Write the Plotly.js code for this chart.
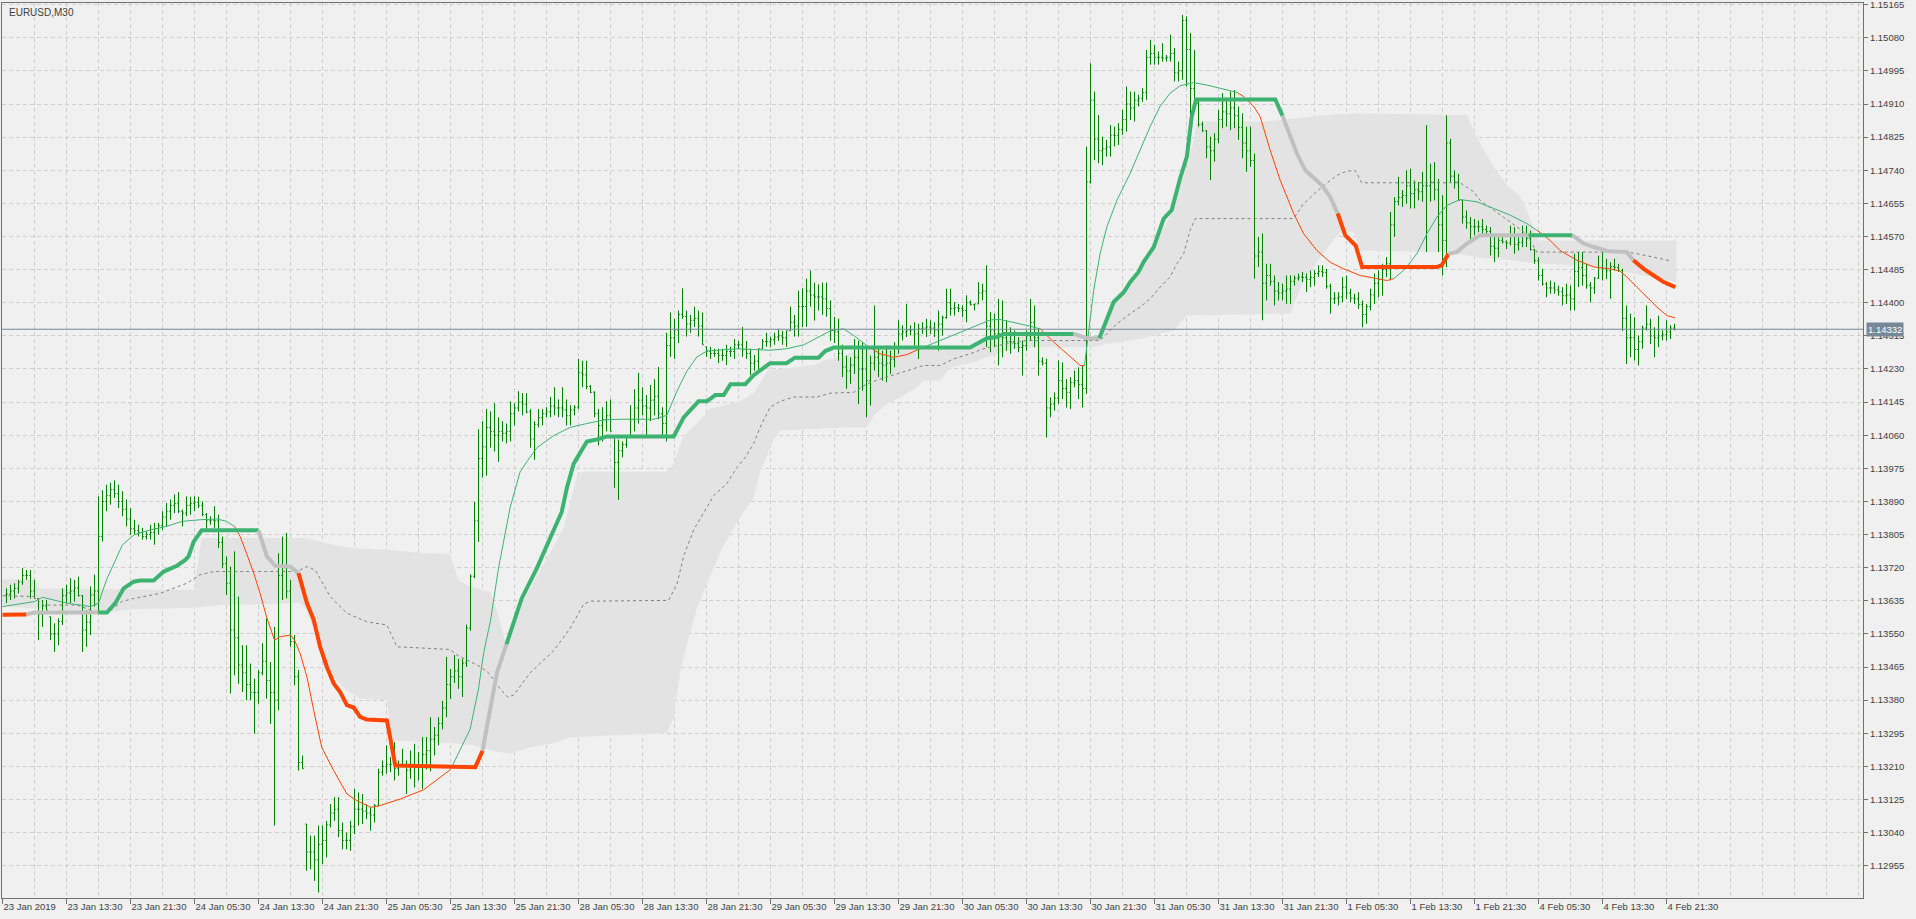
<!DOCTYPE html>
<html><head><meta charset="utf-8">
<script src="https://cdn.plot.ly/plotly-3.0.1.min.js"></script>
<style>html,body{margin:0;padding:0;background:#f0f0f0;overflow:hidden}#chart{width:1916px;height:919px}</style>
</head><body><div id="chart"></div>
<script>
const symbolLabel = "EURUSD,M30";
const bidPrice = 1.14332;
const xTickLabels = ["23 Jan 2019","23 Jan 13:30","23 Jan 21:30","24 Jan 05:30","24 Jan 13:30","24 Jan 21:30","25 Jan 05:30","25 Jan 13:30","25 Jan 21:30","28 Jan 05:30","28 Jan 13:30","28 Jan 21:30","29 Jan 05:30","29 Jan 13:30","29 Jan 21:30","30 Jan 05:30","30 Jan 13:30","30 Jan 21:30","31 Jan 05:30","31 Jan 13:30","31 Jan 21:30","1 Feb 05:30","1 Feb 13:30","1 Feb 21:30","4 Feb 05:30","4 Feb 13:30","4 Feb 21:30"];
const yTickLabels = ["1.12955","1.13040","1.13125","1.13210","1.13295","1.13380","1.13465","1.13550","1.13635","1.13720","1.13805","1.13890","1.13975","1.14060","1.14145","1.14230","1.14315","1.14400","1.14485","1.14570","1.14655","1.14740","1.14825","1.14910","1.14995","1.15080","1.15165"];

const barOpen = [
1.13650,1.13652,1.13660,1.13667,1.13683,1.13700,1.13700,1.13660,1.13641,1.13600,
1.13622,1.13594,1.13550,1.13550,1.13582,1.13648,1.13655,1.13660,1.13668,1.13648,
1.13560,1.13580,1.13650,1.13660,1.13800,1.13890,1.13905,1.13920,1.13910,1.13890,
1.13870,1.13845,1.13820,1.13815,1.13810,1.13800,1.13805,1.13810,1.13820,1.13828,
1.13850,1.13865,1.13880,1.13885,1.13865,1.13860,1.13880,1.13885,1.13888,1.13880,
1.13856,1.13840,1.13842,1.13840,1.13785,1.13730,1.13680,1.13560,1.13540,1.13470,
1.13450,1.13420,1.13400,1.13400,1.13450,1.13480,1.13430,1.13400,1.13380,1.13700,
1.13720,1.13660,1.13530,1.13440,1.13220,1.13062,1.12990,1.12990,1.12970,1.13010,
1.13020,1.13060,1.13090,1.13100,1.13045,1.13020,1.13020,1.13055,1.13100,1.13100,
1.13095,1.13090,1.13085,1.13110,1.13195,1.13210,1.13215,1.13215,1.13205,1.13215,
1.13215,1.13200,1.13215,1.13210,1.13210,1.13240,1.13250,1.13280,1.13290,1.13320,
1.13360,1.13420,1.13440,1.13455,1.13440,1.13475,1.13565,1.13698,1.13840,1.14000,
1.14030,1.14080,1.14070,1.14060,1.14070,1.14065,1.14070,1.14115,1.14130,1.14145,
1.14140,1.14120,1.14050,1.14088,1.14105,1.14115,1.14120,1.14135,1.14130,1.14130,
1.14125,1.14110,1.14125,1.14132,1.14220,1.14215,1.14185,1.14170,1.14115,1.14085,
1.14100,1.14110,1.14059,1.13990,1.14020,1.14036,1.14059,1.14100,1.14130,1.14150,
1.14135,1.14130,1.14150,1.14160,1.14115,1.14090,1.14290,1.14310,1.14330,1.14370,
1.14365,1.14345,1.14355,1.14360,1.14340,1.14287,1.14275,1.14270,1.14270,1.14265,
1.14265,1.14275,1.14275,1.14292,1.14292,1.14280,1.14270,1.14245,1.14250,1.14282,
1.14300,1.14300,1.14305,1.14312,1.14315,1.14310,1.14328,1.14350,1.14340,1.14390,
1.14390,1.14430,1.14420,1.14415,1.14415,1.14410,1.14385,1.14330,1.14325,1.14270,
1.14235,1.14225,1.14240,1.14260,1.14230,1.14230,1.14200,1.14245,1.14260,1.14245,
1.14240,1.14245,1.14255,1.14285,1.14320,1.14325,1.14330,1.14330,1.14320,1.14333,
1.14335,1.14338,1.14335,1.14330,1.14345,1.14362,1.14400,1.14385,1.14387,1.14385,
1.14380,1.14400,1.14395,1.14397,1.14425,1.14430,1.14340,1.14330,1.14320,1.14320,
1.14310,1.14300,1.14300,1.14295,1.14285,1.14290,1.14315,1.14350,1.14310,1.14250,
1.14245,1.14130,1.14140,1.14155,1.14200,1.14180,1.14170,1.14195,1.14200,1.14190,
1.14180,1.14710,1.14920,1.14820,1.14790,1.14795,1.14800,1.14830,1.14830,1.14845,
1.14870,1.14910,1.14900,1.14920,1.14925,1.14940,1.15030,1.15040,1.15030,1.15030,
1.15028,1.15030,1.15040,1.14990,1.14995,1.15125,1.15050,1.14950,1.14912,1.14858,
1.14841,1.14800,1.14790,1.14820,1.14870,1.14890,1.14885,1.14900,1.14880,1.14850,
1.14810,1.14790,1.14765,1.14520,1.14530,1.14450,1.14470,1.14455,1.14430,1.14425,
1.14430,1.14435,1.14455,1.14463,1.14466,1.14465,1.14460,1.14465,1.14475,1.14480,
1.14478,1.14442,1.14410,1.14412,1.14415,1.14440,1.14425,1.14412,1.14410,1.14395,
1.14370,1.14390,1.14420,1.14450,1.14460,1.14485,1.14500,1.14600,1.14660,1.14670,
1.14675,1.14700,1.14680,1.14690,1.14685,1.14700,1.14700,1.14710,1.14690,1.14600,
1.14560,1.14810,1.14725,1.14710,1.14663,1.14620,1.14605,1.14595,1.14595,1.14595,
1.14588,1.14583,1.14545,1.14540,1.14560,1.14556,1.14553,1.14570,1.14550,1.14555,
1.14570,1.14565,1.14536,1.14508,1.14470,1.14448,1.14438,1.14438,1.14433,1.14428,
1.14418,1.14420,1.14410,1.14480,1.14490,1.14470,1.14445,1.14438,1.14463,1.14490,
1.14487,1.14482,1.14493,1.14490,1.14483,1.14360,1.14310,1.14310,1.14280,1.14300,
1.14335,1.14345,1.14315,1.14310,1.14315,1.14318,1.14325,1.14335];

const barHigh = [
1.13667,1.13676,1.13680,1.13689,1.13719,1.13714,1.13714,1.13689,1.13641,1.13637,
1.13637,1.13594,1.13577,1.13590,1.13667,1.13676,1.13693,1.13689,1.13697,1.13650,
1.13611,1.13672,1.13702,1.13903,1.13919,1.13933,1.13938,1.13944,1.13933,1.13916,
1.13895,1.13873,1.13843,1.13830,1.13822,1.13813,1.13830,1.13835,1.13835,1.13865,
1.13886,1.13895,1.13908,1.13914,1.13869,1.13903,1.13902,1.13903,1.13902,1.13890,
1.13860,1.13852,1.13878,1.13856,1.13800,1.13749,1.13723,1.13762,1.13646,1.13521,
1.13521,1.13474,1.13435,1.13457,1.13526,1.13590,1.13478,1.13568,1.13757,1.13800,
1.13809,1.13689,1.13547,1.13457,1.13238,1.13062,1.13032,1.13032,1.13058,1.13058,
1.13070,1.13113,1.13131,1.13131,1.13066,1.13040,1.13070,1.13152,1.13143,1.13139,
1.13113,1.13105,1.13113,1.13204,1.13225,1.13264,1.13234,1.13272,1.13225,1.13255,
1.13225,1.13251,1.13268,1.13247,1.13285,1.13285,1.13336,1.13311,1.13336,1.13378,
1.13491,1.13460,1.13496,1.13486,1.13486,1.13574,1.13703,1.13889,1.14075,1.14096,
1.14127,1.14121,1.14142,1.14106,1.14096,1.14090,1.14147,1.14142,1.14173,1.14168,
1.14168,1.14127,1.14096,1.14127,1.14127,1.14132,1.14158,1.14183,1.14152,1.14183,
1.14152,1.14137,1.14137,1.14256,1.14251,1.14251,1.14189,1.14173,1.14127,1.14132,
1.14147,1.14152,1.14059,1.14049,1.14044,1.14059,1.14137,1.14178,1.14220,1.14183,
1.14163,1.14189,1.14204,1.14235,1.14132,1.14323,1.14375,1.14359,1.14380,1.14437,
1.14380,1.14369,1.14390,1.14380,1.14375,1.14287,1.14287,1.14282,1.14282,1.14282,
1.14292,1.14287,1.14307,1.14302,1.14338,1.14302,1.14282,1.14266,1.14282,1.14307,
1.14323,1.14313,1.14323,1.14333,1.14328,1.14328,1.14390,1.14369,1.14431,1.14437,
1.14462,1.14483,1.14452,1.14447,1.14452,1.14452,1.14406,1.14364,1.14359,1.14292,
1.14264,1.14260,1.14307,1.14303,1.14299,1.14282,1.14264,1.14393,1.14286,1.14277,
1.14290,1.14277,1.14299,1.14355,1.14342,1.14397,1.14342,1.14350,1.14346,1.14350,
1.14359,1.14355,1.14350,1.14380,1.14367,1.14436,1.14436,1.14402,1.14397,1.14393,
1.14419,1.14406,1.14397,1.14453,1.14449,1.14496,1.14376,1.14372,1.14410,1.14406,
1.14355,1.14337,1.14329,1.14312,1.14303,1.14329,1.14410,1.14393,1.14333,1.14260,
1.14256,1.14157,1.14170,1.14252,1.14247,1.14204,1.14209,1.14226,1.14234,1.14239,
1.14801,1.15015,1.14942,1.14882,1.14826,1.14818,1.14856,1.14852,1.14861,1.14895,
1.14955,1.14942,1.14942,1.14934,1.14951,1.15049,1.15075,1.15062,1.15045,1.15066,
1.15036,1.15088,1.15054,1.15019,1.15139,1.15135,1.15092,1.15049,1.14921,1.14865,
1.14843,1.14826,1.14835,1.14895,1.14938,1.14921,1.14942,1.14946,1.14904,1.14886,
1.14852,1.14852,1.14783,1.14569,1.14578,1.14500,1.14500,1.14470,1.14453,1.14449,
1.14470,1.14470,1.14470,1.14475,1.14479,1.14475,1.14483,1.14483,1.14496,1.14496,
1.14487,1.14449,1.14427,1.14427,1.14466,1.14470,1.14436,1.14423,1.14427,1.14406,
1.14397,1.14436,1.14475,1.14483,1.14500,1.14517,1.14633,1.14671,1.14723,1.14689,
1.14740,1.14744,1.14714,1.14710,1.14736,1.14856,1.14757,1.14761,1.14718,1.14676,
1.14881,1.14821,1.14740,1.14731,1.14663,1.14637,1.14620,1.14615,1.14611,1.14615,
1.14598,1.14594,1.14573,1.14568,1.14573,1.14560,1.14598,1.14594,1.14568,1.14598,
1.14598,1.14585,1.14538,1.14517,1.14487,1.14453,1.14457,1.14453,1.14444,1.14440,
1.14449,1.14444,1.14526,1.14530,1.14530,1.14500,1.14453,1.14466,1.14521,1.14530,
1.14513,1.14504,1.14513,1.14500,1.14487,1.14393,1.14372,1.14363,1.14316,1.14341,
1.14393,1.14359,1.14337,1.14367,1.14329,1.14355,1.14342,1.14346];

const barLow = [
1.13629,1.13637,1.13641,1.13654,1.13676,1.13689,1.13641,1.13641,1.13534,1.13568,
1.13611,1.13534,1.13504,1.13521,1.13573,1.13629,1.13629,1.13633,1.13646,1.13504,
1.13517,1.13547,1.13620,1.13603,1.13787,1.13865,1.13882,1.13899,1.13873,1.13852,
1.13826,1.13805,1.13805,1.13800,1.13792,1.13792,1.13792,1.13779,1.13805,1.13817,
1.13826,1.13843,1.13860,1.13860,1.13826,1.13852,1.13856,1.13865,1.13873,1.13852,
1.13817,1.13830,1.13822,1.13770,1.13719,1.13650,1.13397,1.13444,1.13422,1.13401,
1.13380,1.13380,1.13294,1.13371,1.13444,1.13384,1.13319,1.13058,1.13354,1.13637,
1.13641,1.13517,1.13418,1.13199,1.13204,1.12942,1.12946,1.12916,1.12886,1.12959,
1.12976,1.13053,1.13070,1.13028,1.12997,1.12997,1.12993,1.13036,1.13058,1.13062,
1.13075,1.13045,1.13066,1.13109,1.13186,1.13191,1.13195,1.13174,1.13186,1.13208,
1.13139,1.13178,1.13156,1.13174,1.13152,1.13202,1.13197,1.13238,1.13264,1.13305,
1.13336,1.13383,1.13424,1.13409,1.13388,1.13465,1.13558,1.13693,1.13786,1.13951,
1.13956,1.14028,1.14018,1.13992,1.14044,1.14039,1.14044,1.14085,1.14121,1.14111,
1.14116,1.14028,1.13997,1.14080,1.14085,1.14106,1.14106,1.14111,1.14106,1.14106,
1.14085,1.14085,1.14111,1.14127,1.14183,1.14178,1.14168,1.14106,1.14034,1.14044,
1.14070,1.14070,1.13925,1.13894,1.14003,1.14028,1.14059,1.14070,1.14090,1.14111,
1.14059,1.14096,1.14111,1.14101,1.14059,1.14044,1.14261,1.14256,1.14297,1.14359,
1.14313,1.14323,1.14338,1.14313,1.14292,1.14261,1.14256,1.14261,1.14245,1.14251,
1.14240,1.14261,1.14256,1.14282,1.14261,1.14256,1.14214,1.14225,1.14225,1.14282,
1.14287,1.14287,1.14292,1.14302,1.14292,1.14287,1.14328,1.14313,1.14313,1.14338,
1.14338,1.14390,1.14354,1.14380,1.14369,1.14364,1.14302,1.14297,1.14251,1.14209,
1.14179,1.14192,1.14217,1.14140,1.14174,1.14106,1.14136,1.14226,1.14209,1.14200,
1.14196,1.14217,1.14234,1.14269,1.14303,1.14312,1.14316,1.14290,1.14256,1.14320,
1.14312,1.14320,1.14312,1.14277,1.14316,1.14359,1.14367,1.14367,1.14376,1.14363,
1.14350,1.14393,1.14380,1.14397,1.14406,1.14286,1.14273,1.14286,1.14239,1.14260,
1.14277,1.14269,1.14282,1.14273,1.14213,1.14277,1.14303,1.14286,1.14213,1.14239,
1.14054,1.14106,1.14123,1.14140,1.14153,1.14131,1.14127,1.14183,1.14153,1.14131,
1.14166,1.14706,1.14766,1.14758,1.14753,1.14775,1.14775,1.14801,1.14805,1.14831,
1.14839,1.14869,1.14865,1.14904,1.14916,1.14921,1.15011,1.15011,1.15011,1.15019,
1.15019,1.15019,1.14968,1.14968,1.14972,1.14955,1.14878,1.14904,1.14852,1.14839,
1.14771,1.14715,1.14762,1.14809,1.14848,1.14852,1.14843,1.14848,1.14818,1.14771,
1.14736,1.14749,1.14462,1.14492,1.14355,1.14406,1.14444,1.14393,1.14406,1.14406,
1.14397,1.14397,1.14444,1.14457,1.14453,1.14427,1.14440,1.14444,1.14466,1.14466,
1.14436,1.14372,1.14397,1.14393,1.14401,1.14410,1.14401,1.14397,1.14384,1.14337,
1.14346,1.14380,1.14397,1.14414,1.14418,1.14466,1.14457,1.14569,1.14650,1.14646,
1.14654,1.14642,1.14642,1.14663,1.14659,1.14530,1.14659,1.14663,1.14530,1.14470,
1.14491,1.14710,1.14693,1.14663,1.14603,1.14590,1.14564,1.14573,1.14581,1.14577,
1.14573,1.14521,1.14504,1.14517,1.14552,1.14538,1.14547,1.14526,1.14534,1.14543,
1.14543,1.14534,1.14500,1.14457,1.14444,1.14414,1.14423,1.14423,1.14418,1.14393,
1.14397,1.14380,1.14380,1.14440,1.14444,1.14436,1.14401,1.14423,1.14461,1.14457,
1.14461,1.14410,1.14483,1.14479,1.14328,1.14243,1.14260,1.14252,1.14239,1.14282,
1.14329,1.14294,1.14260,1.14286,1.14303,1.14303,1.14307,1.14329];

const barClose = [
1.13652,1.13660,1.13667,1.13683,1.13700,1.13700,1.13660,1.13641,1.13600,1.13622,
1.13611,1.13550,1.13550,1.13582,1.13648,1.13655,1.13660,1.13668,1.13648,1.13560,
1.13580,1.13650,1.13660,1.13800,1.13890,1.13905,1.13920,1.13910,1.13890,1.13870,
1.13845,1.13820,1.13815,1.13810,1.13800,1.13805,1.13810,1.13820,1.13828,1.13850,
1.13865,1.13880,1.13885,1.13865,1.13860,1.13880,1.13885,1.13888,1.13880,1.13856,
1.13840,1.13842,1.13840,1.13785,1.13730,1.13680,1.13560,1.13540,1.13470,1.13450,
1.13420,1.13400,1.13400,1.13450,1.13480,1.13430,1.13400,1.13380,1.13700,1.13720,
1.13660,1.13530,1.13440,1.13220,1.13204,1.12990,1.12990,1.12970,1.13010,1.13020,
1.13060,1.13090,1.13100,1.13045,1.13020,1.13020,1.13055,1.13100,1.13100,1.13095,
1.13090,1.13085,1.13110,1.13195,1.13210,1.13215,1.13215,1.13205,1.13215,1.13215,
1.13200,1.13215,1.13210,1.13210,1.13240,1.13250,1.13280,1.13290,1.13320,1.13360,
1.13420,1.13440,1.13455,1.13440,1.13475,1.13565,1.13698,1.13840,1.14000,1.14030,
1.14080,1.14070,1.14060,1.14070,1.14065,1.14070,1.14115,1.14130,1.14145,1.14140,
1.14120,1.14050,1.14088,1.14105,1.14115,1.14120,1.14135,1.14130,1.14130,1.14125,
1.14110,1.14125,1.14132,1.14220,1.14215,1.14185,1.14170,1.14115,1.14085,1.14100,
1.14110,1.14070,1.13990,1.14020,1.14036,1.14059,1.14100,1.14130,1.14150,1.14135,
1.14130,1.14150,1.14160,1.14115,1.14090,1.14290,1.14310,1.14330,1.14370,1.14365,
1.14345,1.14355,1.14360,1.14340,1.14292,1.14275,1.14270,1.14270,1.14265,1.14265,
1.14275,1.14275,1.14292,1.14292,1.14280,1.14270,1.14245,1.14250,1.14282,1.14300,
1.14300,1.14305,1.14312,1.14315,1.14310,1.14328,1.14350,1.14340,1.14390,1.14390,
1.14430,1.14420,1.14415,1.14415,1.14410,1.14385,1.14330,1.14325,1.14270,1.14235,
1.14225,1.14240,1.14260,1.14230,1.14230,1.14200,1.14245,1.14260,1.14245,1.14240,
1.14245,1.14255,1.14285,1.14320,1.14325,1.14330,1.14330,1.14320,1.14333,1.14335,
1.14338,1.14335,1.14330,1.14345,1.14362,1.14400,1.14385,1.14387,1.14385,1.14380,
1.14400,1.14395,1.14397,1.14425,1.14430,1.14340,1.14330,1.14320,1.14320,1.14310,
1.14300,1.14300,1.14295,1.14285,1.14290,1.14315,1.14350,1.14310,1.14250,1.14245,
1.14130,1.14140,1.14155,1.14200,1.14180,1.14170,1.14195,1.14200,1.14190,1.14180,
1.14710,1.14920,1.14820,1.14790,1.14795,1.14800,1.14830,1.14830,1.14845,1.14870,
1.14910,1.14900,1.14920,1.14925,1.14940,1.15030,1.15040,1.15030,1.15030,1.15028,
1.15030,1.15040,1.14990,1.14995,1.15125,1.15050,1.14950,1.14912,1.14858,1.14841,
1.14800,1.14790,1.14820,1.14870,1.14890,1.14885,1.14900,1.14880,1.14850,1.14810,
1.14790,1.14765,1.14520,1.14530,1.14450,1.14470,1.14455,1.14430,1.14425,1.14430,
1.14435,1.14455,1.14463,1.14466,1.14465,1.14460,1.14465,1.14475,1.14480,1.14478,
1.14442,1.14410,1.14412,1.14415,1.14440,1.14425,1.14412,1.14410,1.14395,1.14370,
1.14390,1.14420,1.14450,1.14460,1.14485,1.14500,1.14600,1.14660,1.14670,1.14675,
1.14700,1.14680,1.14690,1.14685,1.14700,1.14700,1.14710,1.14690,1.14600,1.14560,
1.14810,1.14725,1.14710,1.14663,1.14620,1.14605,1.14595,1.14595,1.14595,1.14588,
1.14583,1.14545,1.14540,1.14560,1.14556,1.14553,1.14570,1.14550,1.14555,1.14570,
1.14565,1.14536,1.14508,1.14470,1.14448,1.14438,1.14438,1.14433,1.14428,1.14418,
1.14420,1.14410,1.14480,1.14490,1.14470,1.14445,1.14438,1.14463,1.14490,1.14487,
1.14482,1.14493,1.14490,1.14483,1.14360,1.14310,1.14310,1.14280,1.14300,1.14335,
1.14345,1.14315,1.14310,1.14315,1.14318,1.14325,1.14335,1.14332];

// thin moving average (bar position, value, colour of the segment that starts there)
const maX = [0,8,10,16,22,24,26,29,30,33,37,41,45,49.4,53.6,56,58,59.4,61,62.8,64.4,66,68,69.4,72,73,74.4,76.1,77.8,79.8,82.8,86.1,88.6,92,93.6,99.4,105.3,112,116.9,119,120.3,122,124,126.9,129.4,131.1,133.6,137.8,141.9,146.1,150.3,154.4,162.8,166.1,168.6,171.1,173.6,176.1,183.6,191.9,196,200.3,204.4,207,210.3,212.8,216.1,219.4,222.8,226.1,229.4,234.4,238.6,242.8,247,249.4,252.8,256,259.4,262.8,266.1,269.4,270.5,271.5,272.8,274.4,276.1,278.6,281.9,284.4,286.9,289.4,291.9,294.4,297.8,301,305.3,308.6,310.3,312.8,314.4,316.9,319.4,322.8,325.3,328.6,331.9,335.3,339.4,343.6,346.1,347.8,350.3,353.6,356.1,358.6,361.1,364.4,368.6,372.8,376.9,381.1,383.6,386.9,389.4,393.6,397.8,401.9,404.4,406.1,408.6,411.1,413.6,416.1,418.2];
const maY = [1.13620,1.13633,1.13644,1.13629,1.13620,1.13629,1.13689,1.13757,1.13779,1.13805,1.13817,1.13826,1.13839,1.13843,1.13845,1.13839,1.13826,1.13800,1.13757,1.13706,1.13654,1.13594,1.13534,1.13543,1.13547,1.13534,1.13500,1.13440,1.13354,1.13259,1.13199,1.13139,1.13122,1.13105,1.13107,1.13126,1.13150,1.13202,1.13305,1.13409,1.13502,1.13584,1.13719,1.13874,1.13966,1.13992,1.14028,1.14059,1.14080,1.14090,1.14099,1.14101,1.14101,1.14111,1.14173,1.14225,1.14261,1.14276,1.14282,1.14278,1.14282,1.14292,1.14313,1.14328,1.14333,1.14316,1.14290,1.14269,1.14260,1.14267,1.14282,1.14303,1.14320,1.14337,1.14356,1.14357,1.14350,1.14342,1.14333,1.14299,1.14269,1.14239,1.14239,1.14320,1.14432,1.14526,1.14595,1.14663,1.14732,1.14792,1.14852,1.14904,1.14938,1.14957,1.14965,1.14959,1.14948,1.14940,1.14929,1.14904,1.14878,1.14792,1.14715,1.14629,1.14577,1.14534,1.14504,1.14487,1.14470,1.14462,1.14457,1.14462,1.14483,1.14526,1.14577,1.14620,1.14650,1.14665,1.14659,1.14642,1.14625,1.14603,1.14586,1.14560,1.14534,1.14509,1.14492,1.14487,1.14481,1.14466,1.14440,1.14414,1.14389,1.14367,1.14361];
const maCol = "gggggggggggggggg" + "rrrrrrrrrrrrrrrrrrrrr" + "ggggggggggggggggggggggggggggg" + "rrrr" + "gggggggg" + "rrrr" + "ggggggggggggggg" + "rrrrrrrrrrrrrr" + "ggggggggggg" + "rrrrrrrrrrrrr";

// thick trailing line
const thX = [0,6,7.8,24,26.1,28.2,30.3,32.8,34.4,37.8,40.3,43.6,45.7,46.5,47.8,49.8,64,66.1,68.2,71.9,74,76.1,77.8,79.4,81.1,82.8,84.4,86.1,87.8,89.4,91.1,96.1,96.9,98.2,118.2,120,122,123.6,126,129.8,133.6,139.8,141.1,142.8,146.1,148.6,151.1,167.8,170.3,174,176.1,178.2,180.3,182,185.7,187.8,191.9,196,198.1,204,205.7,207.8,241.9,243.6,246.1,248.6,250.3,267.8,271.1,274.2,276.1,277.8,280.3,281.9,284,285.3,287.8,289.4,290.3,292.3,293.6,294.4,296.1,296.8,297.3,298.4,318.2,320,321.9,323.6,325.7,327.8,329.8,331.9,333.8,335.7,338.3,339.9,358.6,359.8,361.5,363.6,366.1,369.4,381.5,392.5,395.3,397.8,401.1,406.1,407.7,410.3,412.8,415.3,418.2];
const thY = [1.13599,1.13600,1.13605,1.13605,1.13605,1.13629,1.13667,1.13684,1.13687,1.13687,1.13710,1.13725,1.13740,1.13749,1.13787,1.13816,1.13816,1.13749,1.13725,1.13723,1.13706,1.13629,1.13586,1.13517,1.13465,1.13423,1.13401,1.13367,1.13361,1.13337,1.13330,1.13328,1.13285,1.13212,1.13208,1.13250,1.13367,1.13450,1.13524,1.13641,1.13719,1.13863,1.13925,1.13987,1.14044,1.14049,1.14057,1.14057,1.14106,1.14147,1.14147,1.14163,1.14163,1.14191,1.14191,1.14214,1.14245,1.14245,1.14259,1.14259,1.14276,1.14285,1.14285,1.14294,1.14309,1.14312,1.14320,1.14320,1.14309,1.14309,1.14355,1.14402,1.14427,1.14453,1.14479,1.14505,1.14543,1.14595,1.14616,1.14638,1.14689,1.14719,1.14775,1.14835,1.14878,1.14922,1.14922,1.14880,1.14826,1.14783,1.14740,1.14719,1.14702,1.14672,1.14629,1.14573,1.14547,1.14492,1.14492,1.14496,1.14526,1.14530,1.14552,1.14573,1.14573,1.14573,1.14552,1.14543,1.14533,1.14530,1.14509,1.14487,1.14470,1.14453,1.14440];
const thCol = "r" + "ss" + "ggggggggggggg" + "ssss" + "rrrrrrrrrrrrrrr" + "sss" + "ggggggggggggggggggggggggggggg" + "ss" + "gggggggggggggggggg" + "sssssss" + "rrrrrr" + "ssss" + "g" + "sssss" + "rrrrr";

// dashed middle line
const dsX = [0,7.8,10.3,18.6,24.4,26.1,28.2,29.8,32.8,39.4,46.1,49.4,52.8,73.6,76.1,78.2,81.9,86.1,91.1,96.1,98.6,111.9,113.6,119.4,121.5,124.4,126.3,127.8,131.9,137.8,141.9,145.3,147,166.5,168.6,170.3,172.8,176.1,177.8,181.1,183.6,185.7,187.8,189.4,191.9,194.4,197.8,203.6,207,212.8,216.1,219.4,226.1,230.3,234.4,237.8,241.9,245.3,248.6,253.6,256,274.4,276.1,278.6,281.9,284.4,286.9,289.4,291.9,293.6,295.3,296.1,296.9,298.2,322.8,325.3,329.4,333.6,336.1,338.2,339.8,364.4,367.8,369.4,372.8,376.9,380.3,381.9,383.6,406.1,408.6,412.8,417.3];
const dsY = [1.13648,1.13646,1.13624,1.13624,1.13603,1.13603,1.13620,1.13633,1.13641,1.13654,1.13680,1.13702,1.13710,1.13710,1.13723,1.13714,1.13646,1.13603,1.13581,1.13573,1.13517,1.13510,1.13496,1.13466,1.13450,1.13409,1.13388,1.13393,1.13450,1.13507,1.13564,1.13626,1.13634,1.13636,1.13677,1.13750,1.13817,1.13874,1.13905,1.13936,1.13977,1.14003,1.14039,1.14080,1.14132,1.14147,1.14158,1.14158,1.14168,1.14170,1.14192,1.14204,1.14226,1.14239,1.14239,1.14256,1.14269,1.14282,1.14290,1.14299,1.14303,1.14303,1.14320,1.14346,1.14372,1.14389,1.14410,1.14440,1.14466,1.14500,1.14526,1.14560,1.14586,1.14616,1.14616,1.14655,1.14693,1.14727,1.14738,1.14739,1.14708,1.14708,1.14685,1.14663,1.14637,1.14607,1.14582,1.14560,1.14530,1.14530,1.14526,1.14517,1.14507];

// shaded band: upper and lower edges
const cuX = [0,7.8,9,47.8,49.8,75.3,79.4,82.8,87.8,96.1,105.4,111.9,114,116.9,122,124,125.9,129.8,133.6,140.3,143.6,145.3,166.1,167.8,170.3,173.6,176.9,184.4,187.8,191.2,194.4,202.8,205.3,210.4,215,241.9,246.1,249.4,267.8,274.4,277.8,284.4,289.4,291.9,293.6,296.1,297.8,298.6,315.4,331.1,337.8,366.1,369.4,372.8,376.1,379.4,381.1,382.8,384,418.5];
const cuY = [1.13690,1.13690,1.13667,1.13663,1.13796,1.13796,1.13787,1.13779,1.13770,1.13766,1.13757,1.13755,1.13688,1.13672,1.13657,1.13595,1.13524,1.13626,1.13698,1.13822,1.13956,1.13966,1.13966,1.13987,1.14059,1.14090,1.14127,1.14147,1.14168,1.14225,1.14230,1.14240,1.14251,1.14265,1.14282,1.14282,1.14305,1.14318,1.14318,1.14307,1.14397,1.14483,1.14578,1.14620,1.14672,1.14749,1.14818,1.14865,1.14865,1.14882,1.14886,1.14882,1.14809,1.14749,1.14702,1.14672,1.14637,1.14594,1.14560,1.14560];
const clX = [0,7.8,24.4,32.8,47.8,54.5,74.4,76.1,79.4,82.8,86.1,89.4,96.1,97.3,105.4,112.8,117.8,122.8,127,131.9,137.8,141.9,166.1,167.8,169.4,171.1,173.6,176.1,179.4,182.8,185.3,187.8,189.4,191.1,192.8,194.4,210.4,216.1,217.8,221.1,224.4,228.6,230.3,234.4,236.9,242.8,248.6,253.6,256.9,272.8,276.1,284.4,292.8,296.1,321.9,325.3,329.4,334.4,337.8,339.4,361.9,368.6,376.9,385.3,393.6,401.9,410.3,418.5];
const clY = [1.13620,1.13616,1.13603,1.13613,1.13617,1.13624,1.13629,1.13611,1.13517,1.13440,1.13405,1.13384,1.13380,1.13277,1.13272,1.13269,1.13264,1.13249,1.13243,1.13259,1.13269,1.13285,1.13295,1.13336,1.13450,1.13522,1.13615,1.13677,1.13760,1.13822,1.13863,1.13899,1.13966,1.14008,1.14049,1.14072,1.14080,1.14080,1.14110,1.14140,1.14157,1.14183,1.14200,1.14200,1.14234,1.14247,1.14269,1.14282,1.14286,1.14286,1.14295,1.14307,1.14329,1.14367,1.14372,1.14457,1.14517,1.14582,1.14582,1.14534,1.14530,1.14517,1.14509,1.14500,1.14496,1.14487,1.14470,1.14453];

// ---------- drawing ----------
const FONT = '"Liberation Sans", Arial, sans-serif';
const GREEN = '#3cb371', RED = '#ff4500', SILVER = '#c0c0c0';
const colMap = {g: GREEN, r: RED, s: SILVER};

function colouredSegments(xs, ys, cols, width) {
  const out = [];
  let cur = null;
  for (let k = 0; k < xs.length - 1; k++) {
    const c = cols[k];
    if (!cur || cur.c !== c) {
      cur = {c: c, x: [xs[k]], y: [ys[k]]};
      out.push(cur);
    }
    cur.x.push(xs[k + 1]);
    cur.y.push(ys[k + 1]);
  }
  return out.map(s => ({
    type: 'scatter', mode: 'lines', x: s.x, y: s.y, hoverinfo: 'skip',
    line: {color: colMap[s.c], width: width}
  }));
}

const traces = [];
// band (behind everything)
traces.push({
  type: 'scatter', mode: 'lines', hoverinfo: 'skip',
  x: cuX.concat(clX.slice().reverse()),
  y: cuY.concat(clY.slice().reverse()),
  fill: 'toself', fillcolor: '#e3e3e3', line: {color: 'rgba(0,0,0,0)', width: 0}
});
// price bars
const bx = [], by = [];
for (let k = 0; k < barHigh.length; k++) {
  const i = k + 1;
  bx.push(i, i, null, i - 0.32, i, null, i, i + 0.32, null);
  by.push(barLow[k], barHigh[k], null, barOpen[k], barOpen[k], null, barClose[k], barClose[k], null);
}
traces.push({
  type: 'scatter', mode: 'lines', x: bx, y: by, hoverinfo: 'skip',
  line: {color: '#008000', width: 1}, connectgaps: false
});
// indicator lines on top of the bars
traces.push({
  type: 'scatter', mode: 'lines', x: dsX, y: dsY, hoverinfo: 'skip',
  line: {color: '#808080', width: 1, dash: '3px,3px'}
});
colouredSegments(maX, maY, maCol, 1).forEach(t => traces.push(t));
colouredSegments(thX, thY, thCol, 4).forEach(t => traces.push(t));

const gridColor = '#cfcfcf';
const layout = {
  width: 1916, height: 919,
  margin: {l: 2, r: 53, t: 3, b: 21, pad: 0},
  paper_bgcolor: '#f0f0f0', plot_bgcolor: '#f0f0f0',
  showlegend: false,
  font: {family: FONT, size: 10, color: '#404040'},
  xaxis: {
    range: [-0.125, 465.125], fixedrange: true, zeroline: false,
    tickmode: 'array', tickvals: xTickLabels.map((_, k) => 16 * k), ticktext: xTickLabels,
    ticks: 'outside', ticklen: 5, tickcolor: '#707070', tickwidth: 1,
    ticklabelposition: 'outside right',
    tickfont: {family: FONT, size: 9.5, color: '#404040'},
    showgrid: true, gridcolor: gridColor, griddash: '4px,3px', gridwidth: 1,
    minor: {tickmode: 'linear', tick0: 0, dtick: 8, showgrid: true, gridcolor: gridColor, griddash: '4px,3px', gridwidth: 1, ticks: ''},
    showline: true, mirror: true, linecolor: '#707070', linewidth: 1
  },
  yaxis: {
    side: 'right', range: [1.128721, 1.151694], fixedrange: true, zeroline: false,
    tickmode: 'array', tickvals: yTickLabels.map(Number), ticktext: yTickLabels,
    ticks: 'outside', ticklen: 4, tickcolor: '#707070', tickwidth: 1,
    ticklabeloverflow: 'allow',
    tickfont: {family: FONT, size: 9.5, color: '#404040'},
    showgrid: true, gridcolor: gridColor, griddash: '4px,3px', gridwidth: 1,
    showline: true, mirror: true, linecolor: '#707070', linewidth: 1
  },
  shapes: [{
    type: 'line', xref: 'paper', x0: 0, x1: 1, yref: 'y', y0: bidPrice, y1: bidPrice,
    line: {color: '#778899', width: 1}
  }],
  annotations: [
    {xref: 'paper', yref: 'paper', x: 0, y: 1, xshift: 5, yshift: -2, xanchor: 'left', yanchor: 'top',
     text: symbolLabel, showarrow: false, font: {family: FONT, size: 10, color: '#404040'}},
    {xref: 'paper', yref: 'y', x: 1, y: bidPrice, xshift: 3, xanchor: 'left', yanchor: 'middle',
     text: bidPrice.toFixed(5), showarrow: false, bgcolor: '#778899', borderpad: 1,
     font: {family: FONT, size: 9.5, color: '#ffffff'}}
  ]
};

Plotly.newPlot('chart', traces, layout, {displayModeBar: false, staticPlot: true});
</script>
</body></html>
